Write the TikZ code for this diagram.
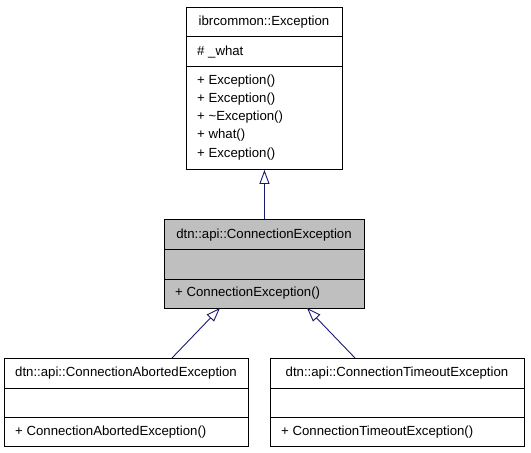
\documentclass[tikz,border=0pt]{standalone}
\usepackage{fontspec}
\setmainfont{Liberation Sans}
\usetikzlibrary{arrows.meta}
\definecolor{edgeblue}{HTML}{191970}
\definecolor{boxgray}{HTML}{BFBFBF}
\begin{document}
\begin{tikzpicture}[x=1pt,y=-1pt,
  umlbox/.style={draw=black, line width=0.9pt, rectangle, anchor=north west, inner sep=0pt},
  sep/.style={draw=black, line width=0.9pt},
  ttl/.style={font=\fontsize{13.2}{15}\selectfont, inner sep=0pt, anchor=base},
  mem/.style={font=\fontsize{13.2}{15}\selectfont, inner sep=0pt, anchor=base west},
  inherit/.style={draw=edgeblue, line width=0.9pt, -{Triangle[open, length=14pt, width=10pt, fill=white]}}
]
\useasboundingbox (0,0) rectangle (531,453);

% ibrcommon::Exception
\node[umlbox, minimum width=156pt, minimum height=162pt] (exc) at (186,7) {};
\draw[sep] (186,36) -- (342,36);
\draw[sep] (186,66) -- (342,66);
\node[ttl] (excT) at (264,25) {ibrcommon::Exception};
\node[mem] (excA) at (197,55) {\# \_what};
\node[mem] (excM1) at (197,84) {+ Exception()};
\node[mem] (excM2) at (197,102.3) {+ Exception()};
\node[mem] (excM3) at (197,120.6) {+ \textasciitilde Exception()};
\node[mem] (excM4) at (197,138.9) {+ what()};
\node[mem] (excM5) at (197,157.2) {+ Exception()};

% dtn::api::ConnectionException
\node[umlbox, fill=boxgray, minimum width=200pt, minimum height=89pt] (ce) at (164,219) {};
\draw[sep] (164,249) -- (364,249);
\draw[sep] (164,279) -- (364,279);
\node[ttl] (ceT) at (264,238) {dtn::api::ConnectionException};
\node[mem] (ceM) at (175,296) {+ ConnectionException()};

% dtn::api::ConnectionAbortedException
\node[umlbox, minimum width=244pt, minimum height=88pt] (ca) at (4,358) {};
\draw[sep] (4,388) -- (248,388);
\draw[sep] (4,417) -- (248,417);
\node[ttl] (caT) at (126,376) {dtn::api::ConnectionAbortedException};
\node[mem] (caM) at (15,435) {+ ConnectionAbortedException()};

% dtn::api::ConnectionTimeoutException
\node[umlbox, minimum width=254pt, minimum height=88pt] (ct) at (270,358) {};
\draw[sep] (270,388) -- (524,388);
\draw[sep] (270,417) -- (524,417);
\node[ttl] (ctT) at (397,376) {dtn::api::ConnectionTimeoutException};
\node[mem] (ctM) at (281,435) {+ ConnectionTimeoutException()};

% connectors
\coordinate (caTop) at (172,358);
\coordinate (ceInL) at (220,308);
\coordinate (ctTop) at (355,358);
\coordinate (ceInR) at (307,308);
\draw[inherit] (ce.north) -- (exc.south);
\draw[inherit] (caTop) -- (ceInL);
\draw[inherit] (ctTop) -- (ceInR);
\end{tikzpicture}
\end{document}
